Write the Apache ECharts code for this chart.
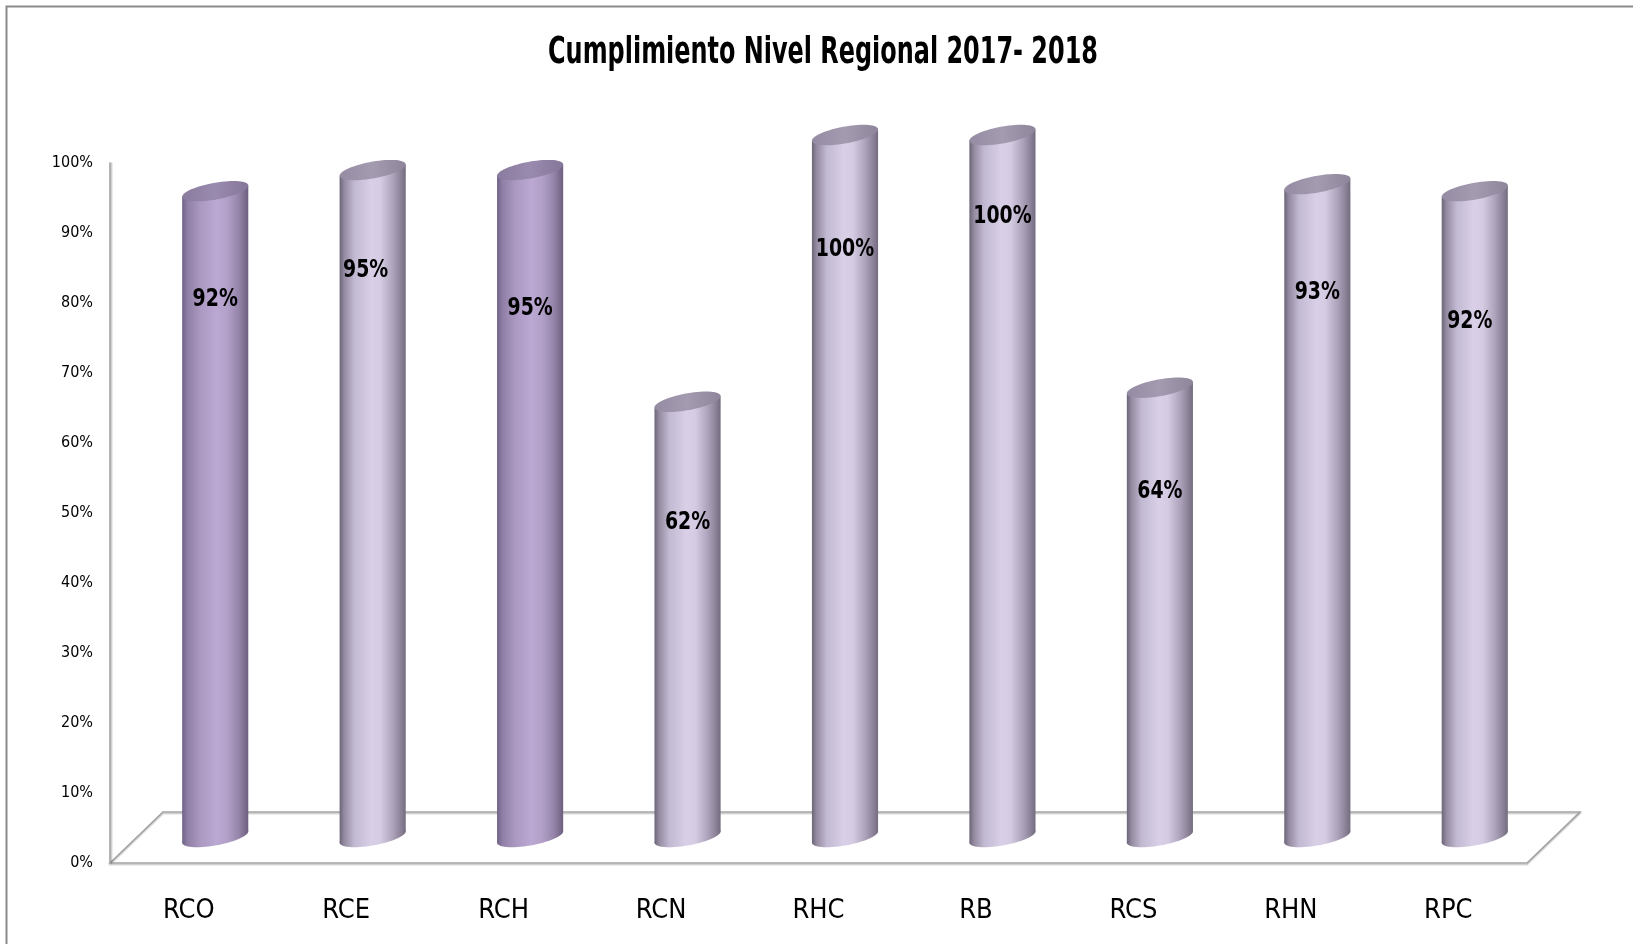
<!DOCTYPE html>
<html>
<head>
<meta charset="utf-8">
<title>Cumplimiento Nivel Regional 2017- 2018</title>
<script src="https://cdn.jsdelivr.net/npm/echarts@6.0.0/dist/echarts.min.js"></script>
<style>
  html, body { margin: 0; padding: 0; background: #ffffff; }
  #chart { width: 1633px; height: 944px; }
</style>
</head>
<body>
<div id="chart"></div>
<script>
// ---- data ----
const chartTitle = 'Cumplimiento Nivel Regional 2017- 2018';
const regions = ['RCO', 'RCE', 'RCH', 'RCN', 'RHC', 'RB', 'RCS', 'RHN', 'RPC'];
const compliance = [92, 95, 95, 62, 100, 100, 64, 93, 92];   // percent
const yTickValues = [0, 10, 20, 30, 40, 50, 60, 70, 80, 90, 100];

// ---- styling ----
const darkRegions = ['RCO', 'RCH'];                       // deeper purple cylinders
const labelDrop = [108, 100, 138, 121, 114, 81, 104, 108, 130]; // label distance below cylinder top (px)
const labelShift = [0, -7, 0, 0, 0, 0, 0, 0, -5];         // horizontal nudge of labels (px)

const NARROW = '"Liberation Sans Narrow", "DejaVu Sans Condensed", "Arial Narrow", sans-serif';

// front plane (axis labels) and mid plane (cylinders) of the 3-D floor
const FRONT = { left: 110, top: 163, width: 1417, height: 700 };
const DEPTH = { dx: 53, dy: 51 };
const MID = {
  left: FRONT.left + DEPTH.dx / 2,
  top: FRONT.top - 28,
  width: FRONT.width,
  height: FRONT.height + 2
};

const lightBody = [
  [0, '#6c6477'], [0.07, '#948ba1'], [0.22, '#c1b8d1'], [0.48, '#d9d0e8'],
  [0.62, '#d5cce4'], [0.8, '#aea4bc'], [0.93, '#8b8197'], [1, '#746b80']
];
const darkBody = [
  [0, '#706385'], [0.08, '#8f7ea6'], [0.28, '#ab99c2'], [0.52, '#bba8d3'],
  [0.68, '#b2a0c9'], [0.86, '#9584a9'], [1, '#6c5f7e']
];
const lightTop = [[0, '#958ca3'], [0.5, '#a49bb1'], [1, '#8e859b']];
const darkTop = [[0, '#8a7c9e'], [0.5, '#998aaf'], [1, '#857799']];

function grad(stops) {
  return new echarts.graphic.LinearGradient(0, 0, 1, 0,
    stops.map(s => ({ offset: s[0], color: s[1] })));
}

// points of a sheared ellipse whose side extremes sit on the cylinder walls
function ellipsePoints(cx, cy, rx, ry, slope) {
  const pts = [];
  const n = 64;
  for (let k = 0; k < n; k++) {
    const t = (k / n) * Math.PI * 2;
    const c = Math.cos(t), s = Math.sin(t);
    pts.push([cx + rx * c, cy + ry * s - slope * rx * c]);
  }
  return pts;
}

function renderCylinder(params, api) {
  const idx = api.value(0);
  const val = api.value(1);
  const top = api.coord([idx, val]);
  const base = api.coord([idx, 0]);
  const w = api.size([1, 0])[0] * 0.42;
  const rx = w / 2;
  const ry = 8.5;
  const slope = 0.17;
  const sh = rx * slope;
  const cx = top[0];
  const dark = darkRegions.indexOf(regions[idx]) >= 0;
  const bodyFill = grad(dark ? darkBody : lightBody);
  const topFill = grad(dark ? darkTop : lightTop);

  return {
    type: 'group',
    children: [
      {
        type: 'polygon',
        shape: { points: ellipsePoints(cx, base[1], rx, ry, slope) },
        style: { fill: bodyFill }
      },
      {
        type: 'polygon',
        shape: {
          points: [
            [cx - rx, top[1] + sh], [cx + rx, top[1] - sh],
            [cx + rx, base[1] - sh], [cx - rx, base[1] + sh]
          ]
        },
        style: { fill: bodyFill }
      },
      {
        type: 'polygon',
        shape: { points: ellipsePoints(cx, top[1], rx, ry, slope) },
        style: { fill: topFill }
      },
      {
        type: 'text',
        x: cx + labelShift[idx],
        y: top[1] + labelDrop[idx],
        scaleX: 0.84,
        style: {
          text: val + '%',
          x: 0,
          y: 0,
          align: 'center',
          verticalAlign: 'middle',
          fontFamily: NARROW,
          fontWeight: 'bold',
          fontSize: 25,
          fill: '#000000'
        }
      }
    ]
  };
}

const chart = echarts.init(document.getElementById('chart'), null, { renderer: 'canvas' });

const floorY = FRONT.top + FRONT.height;
const floorPts = [
  [FRONT.left, floorY],
  [FRONT.left + DEPTH.dx, floorY - DEPTH.dy],
  [FRONT.left + FRONT.width + DEPTH.dx, floorY - DEPTH.dy],
  [FRONT.left + FRONT.width, floorY]
];

const option = {
  backgroundColor: '#ffffff',
  animation: false,
  graphic: [
    {
      type: 'rect',
      z: 0,
      shape: { x: 6.5, y: 6.5, width: 2000, height: 2000 },
      style: { fill: 'none', stroke: '#8a8a8a', lineWidth: 2 }
    },
    {
      type: 'polygon',
      z: 0,
      shape: { points: floorPts },
      style: {
        fill: 'none', stroke: '#a2a2a2', lineWidth: 1.6,
        shadowColor: 'rgba(0,0,0,0.22)', shadowOffsetY: 1.5, shadowBlur: 1
      }
    },
    {
      type: 'text',
      x: 823,
      y: 53,
      scaleX: 0.7,
      style: {
        text: chartTitle,
        x: 0,
        y: 0,
        align: 'center',
        verticalAlign: 'middle',
        fontFamily: NARROW,
        fontWeight: 'bold',
        fontSize: 38,
        fill: '#000000'
      }
    }
  ],
  grid: [
    { left: FRONT.left, top: FRONT.top, width: FRONT.width, height: FRONT.height },
    { left: MID.left, top: MID.top, width: MID.width, height: MID.height }
  ],
  xAxis: [
    {
      type: 'category',
      gridIndex: 0,
      data: regions,
      axisLine: { show: false },
      axisTick: { show: false },
      axisLabel: {
        margin: 34,
        fontFamily: NARROW,
        fontSize: 27,
        color: '#000000'
      },
      splitLine: { show: false }
    },
    {
      type: 'category',
      gridIndex: 1,
      data: regions,
      show: false
    }
  ],
  yAxis: [
    {
      type: 'value',
      gridIndex: 0,
      min: yTickValues[0],
      max: yTickValues[yTickValues.length - 1],
      interval: yTickValues[1] - yTickValues[0],
      axisLine: {
        show: true,
        lineStyle: {
          color: '#a2a2a2', width: 1.6,
          shadowColor: 'rgba(0,0,0,0.22)', shadowOffsetX: 1.5, shadowBlur: 1
        }
      },
      axisTick: { show: false },
      splitLine: { show: false },
      axisLabel: {
        margin: 17,
        formatter: '{value}%',
        fontFamily: NARROW,
        fontSize: 16,
        color: '#000000'
      }
    },
    {
      type: 'value',
      gridIndex: 1,
      min: yTickValues[0],
      max: yTickValues[yTickValues.length - 1],
      show: false
    }
  ],
  series: [
    {
      type: 'custom',
      name: chartTitle,
      xAxisIndex: 1,
      yAxisIndex: 1,
      z: 3,
      renderItem: renderCylinder,
      encode: { x: 0, y: 1 },
      data: regions.map((r, i) => [i, compliance[i]])
    }
  ]
};

chart.setOption(option);
</script>
</body>
</html>
